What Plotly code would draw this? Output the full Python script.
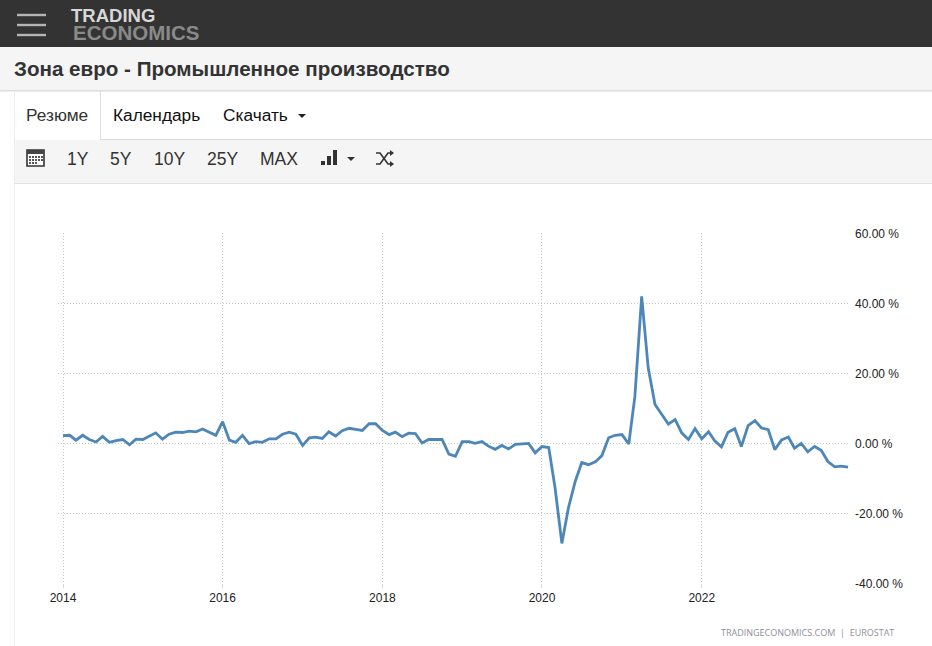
import plotly.graph_objects as go
import pandas as pd

W, H = 932, 646
months = pd.date_range("2014-01-01", "2023-11-01", freq="MS")
values = [
    2.1, 2.2, 0.8, 2.2, 1.0, 0.3, 1.9, 0.2, 0.7, 1.0, -0.5, 1.1,
    1.0, 1.9, 2.9, 1.1, 2.5, 3.1, 3.0, 3.4, 3.2, 4.0, 3.1, 2.2,
    6.1, 0.8, 0.2, 2.2, -0.2, 0.4, 0.2, 1.2, 1.2, 2.5, 3.1, 2.5,
    -0.7, 1.5, 1.7, 1.3, 3.2, 2.0, 3.5, 4.2, 3.9, 3.6, 5.5, 5.5,
    3.6, 2.4, 3.1, 1.8, 2.8, 2.7, 0.0, 1.0, 1.0, 1.0, -3.2, -3.8,
    0.4, 0.4, -0.1, 0.4, -0.9, -1.8, -0.7, -1.7, -0.4, -0.2, -0.1, -2.8,
    -1.0, -1.3, -12.9, -28.7, -18.5, -11.0, -5.6, -6.2, -5.4, -3.6, 1.5, 2.2,
    2.4, -0.3, 13.3, 41.9, 21.4, 11.0, 8.4, 5.4, 6.7, 2.9, 1.0, 4.1,
    1.2, 3.2, 0.6, -1.1, 3.1, 4.1, -1.0, 5.0, 6.4, 4.3, 3.8, -1.9,
    0.9, 1.7, -1.5, -0.1, -2.5, -1.0, -2.1, -5.3, -6.8, -6.6, -6.9,
]
y_ticks = [-40, -20, 0, 20, 40, 60]
y_labels = ["-40.00 %", "-20.00 %", "0.00 %", "20.00 %", "40.00 %", "60.00 %"]
x_ticks = ["2014-01-01", "2016-01-01", "2018-01-01", "2020-01-01", "2022-01-01"]
x_labels = ["2014", "2016", "2018", "2020", "2022"]
title_text = "Зона евро - Промышленное производство"
tabs = [("Резюме", 25, "#333333"), ("Календарь", 112, "#111111"), ("Скачать", 222, "#111111")]
ranges = [("1Y", 66), ("5Y", 109), ("10Y", 153), ("25Y", 206), ("MAX", 259)]


def px(x):
    return x / W


def py(y):
    return 1 - y / H


def rect(x0, y0, x1, y1, color, layer="below"):
    return dict(type="rect", xref="paper", yref="paper", x0=px(x0), x1=px(x1), y0=py(y1), y1=py(y0),
                fillcolor=color, line_width=0, layer=layer)


def path(points, fill=None, line=None, width=1.5):
    d = "M" + " L".join(f"{px(a):.5f},{py(b):.5f}" for a, b in points)
    if fill:
        d += " Z"
    return dict(type="path", xref="paper", yref="paper", path=d, fillcolor=fill or "rgba(0,0,0,0)",
                line=dict(color=line or "rgba(0,0,0,0)", width=width if line else 0), layer="above")


def label(x, y, text, size, color, bold=False, anchor="left", family="Liberation Sans"):
    return dict(xref="paper", yref="paper", x=px(x), y=py(y), text=f"<b>{text}</b>" if bold else text,
                showarrow=False, xanchor=anchor, yanchor="middle", borderpad=0,
                font=dict(size=size, color=color, family=family))


shapes = [
    rect(0, 0, W, 47, "#333333"),
    rect(0, 47, W, 90, "#f5f5f5"),
    rect(0, 90, W, 91.5, "#dddddd"),
    rect(14, 91, 15, H, "#eeeeee"),
    rect(14, 139, W, 140, "#dddddd"),
    rect(100, 91, 101, 140, "#dddddd"),
    rect(15, 139, 100, 140, "#ffffff"),
    rect(15, 140, W, 183, "#f5f5f5"),
    rect(14, 183, W, 184, "#e3e3e3"),
]
for yy in (15, 25, 35):
    shapes.append(rect(17, yy - 1.2, 46, yy + 1.2, "#b5b5b5"))
shapes += [
    path([(27, 150), (44, 150), (44, 166), (27, 166)], fill="#ffffff", line="#333333", width=1.6),
    path([(27, 150), (44, 150), (44, 154), (27, 154)], fill="#444444"),
]
for cy in (157, 160, 163):
    for cx in (30, 33, 36, 39, 42):
        if not (cy == 163 and cx > 36):
            shapes.append(rect(cx - 0.9, cy - 0.9, cx + 0.9, cy + 0.9, "#444444", layer="above"))
for x0, top in ((321, 161), (327, 156), (333, 150)):
    shapes.append(rect(x0, top, x0 + 4, 165, "#333333", layer="above"))
shapes.append(path([(298, 114), (306, 114), (302, 118)], fill="#222222"))
shapes.append(path([(347, 157), (355, 157), (351, 161)], fill="#333333"))
shapes += [
    path([(376, 153), (380, 153), (388, 164), (393, 164)], line="#333333", width=1.6),
    path([(376, 164), (380, 164), (388, 153), (393, 153)], line="#333333", width=1.6),
    path([(390, 150), (394, 153), (390, 156)], fill="#333333"),
    path([(390, 161), (394, 164), (390, 167)], fill="#333333"),
]

annotations = [
    label(70, 15.5, "TRADING", 18.5, "#d8d8d8", bold=True),
    label(72, 32.5, "ECONOMICS", 20.5, "#8a8a8a", bold=True),
    label(13, 68, title_text, 20.6, "#333333", bold=True),
    label(720, 632, "TRADINGECONOMICS.COM &nbsp;|&nbsp; EUROSTAT", 9, "#8f8f9a", family="Open Sans"),
]
for text, x, color in tabs:
    annotations.append(label(x, 115, text, 17.3, color))
for text, x in ranges:
    annotations.append(label(x, 159, text, 17.5, "#333333"))

fig = go.Figure(go.Scatter(x=months, y=values, mode="lines", line=dict(color="#4d87b9", width=2.8),
                           hoverinfo="skip", showlegend=False))
fig.update_layout(
    template="none", autosize=False,
    width=W, height=H, margin=dict(l=0, r=0, t=0, b=0, pad=0, autoexpand=False),
    paper_bgcolor="#ffffff", plot_bgcolor="#ffffff",
    shapes=shapes, annotations=annotations, showlegend=False,
    font=dict(family="Liberation Sans", color="#333333"),
    xaxis=dict(domain=[px(58), px(850)], type="date", range=["2013-12-09", "2023-11-10"], automargin=False,
               tickvals=x_ticks, ticktext=x_labels, showgrid=True, gridcolor="#c6c6c6", griddash="1px,2px",
               gridwidth=1, zeroline=False, showline=False, ticks="outside", ticklen=4, tickcolor="#d8d8d8",
               tickfont=dict(size=12, color="#222222")),
    yaxis=dict(domain=[py(583), py(233)], range=[-40, 60], side="right", tickvals=y_ticks, ticktext=y_labels,
               automargin=False, showgrid=True, gridcolor="#c6c6c6", griddash="1px,2px", gridwidth=1,
               zeroline=False, showline=False, ticks="", ticklabelstandoff=4, ticklabelshift=1,
               tickfont=dict(size=12, color="#222222")),
)
css = ("var s=document.createElement('style');"
       "s.textContent='html,body{margin:0!important;padding:0!important;overflow:hidden}';"
       "document.head.appendChild(s);")
fig.write_html("out.html", post_script=css, config={"displayModeBar": False})
